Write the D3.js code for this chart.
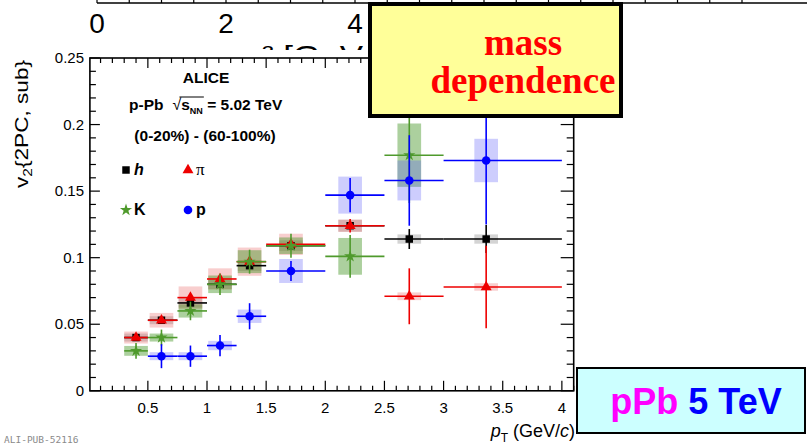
<!DOCTYPE html>
<html>
<head>
<meta charset="utf-8">
<script src="https://cdn.jsdelivr.net/npm/d3@7"></script>
<style>
  html, body { margin: 0; padding: 0; background: #fff; }
  svg { display: block; }
</style>
</head>
<body>
<svg id="chart" width="807" height="446"></svg>
<script>
// pT bins (GeV/c) and mean pT inside each bin
const binLo  = [0.3, 0.5, 0.75, 1.0, 1.25, 1.5, 2.0, 2.5, 3.0];
const binHi  = [0.5, 0.75, 1.0, 1.25, 1.5, 2.0, 2.5, 3.0, 4.0];
const ptMean = [0.40, 0.615, 0.86, 1.11, 1.36, 1.71, 2.21, 2.71, 3.36];

// unidentified hadrons h
const hBins = [0, 1, 2, 3, 4, 5, 6, 7, 8];
const hV    = [0.040, 0.053, 0.066, 0.080, 0.094, 0.109, 0.124, 0.114, 0.114];
const hStat = [0.001, 0.001, 0.0015, 0.0015, 0.002, 0.002, 0.003, 0.0075, 0.0105];
const hSys  = [0.003, 0.003, 0.0035, 0.0035, 0.004, 0.004, 0.0045, 0.0035, 0.0035];

// pions
const piBins = [0, 1, 2, 3, 4, 5, 6, 7, 8];
const piV    = [0.040, 0.053, 0.070, 0.084, 0.097, 0.110, 0.124, 0.071, 0.078];
const piStat = [0.0015, 0.0015, 0.002, 0.002, 0.003, 0.003, 0.005, 0.021, 0.031];
const piSys  = [0.0045, 0.0055, 0.0084, 0.008, 0.0106, 0.008, 0.0046, 0.0029, 0.0028];

// kaons
const kBins = [0, 1, 2, 3, 4, 5, 6, 7];
const kV    = [0.030, 0.040, 0.060, 0.080, 0.097, 0.109, 0.101, 0.177];
const kStat = [0.006, 0.006, 0.007, 0.008, 0.009, 0.009, 0.016, 0.036];
const kSys  = [0.0037, 0.003, 0.005, 0.0066, 0.0086, 0.0062, 0.0138, 0.0238];

// protons
const pBins = [1, 2, 3, 4, 5, 6, 7, 8];
const pV    = [0.026, 0.026, 0.034, 0.056, 0.090, 0.147, 0.158, 0.173];
const pStat = [0.009, 0.008, 0.008, 0.0098, 0.0075, 0.0129, 0.034, 0.048];
const pSys  = [0.003, 0.003, 0.0035, 0.005, 0.009, 0.0139, 0.015, 0.0163];

// axis tick labels
const xTickVals = [0.5, 1, 1.5, 2, 2.5, 3, 3.5, 4];
const yTickVals = [0, 0.05, 0.1, 0.15, 0.2, 0.25];
const upperTickLabels = [0, 2, 4];

const svg = d3.select("#chart");
const sans = "'Liberation Sans', Arial, Helvetica, sans-serif";
const serif = "'Liberation Serif', 'Times New Roman', serif";

// ---- lower edge of the panel above (axis with ticks) ----
const xUp = d3.scaleLinear().domain([0, 4]).range([97, 355]);
const upper = svg.append("g");
upper.append("line").attr("x1", xUp(0)).attr("x2", 807).attr("y1", 3).attr("y2", 3)
  .attr("stroke", "#000").attr("stroke-width", 1.5);
upper.selectAll("line.ut").data(d3.range(0, 10.01, 0.5)).join("line")
  .attr("class", "ut")
  .attr("x1", d => xUp(d)).attr("x2", d => xUp(d))
  .attr("y1", 0).attr("y2", 3).attr("stroke", "#000").attr("stroke-width", 1.2);
upper.selectAll("text.ul").data(upperTickLabels).join("text")
  .attr("class", "ul")
  .attr("x", d => xUp(d)).attr("y", 33)
  .attr("text-anchor", "middle")
  .attr("font-family", sans).attr("font-size", 28)
  .text(d => d);
upper.append("text")
  .attr("x", 262).attr("y", 65)
  .attr("font-family", sans).attr("font-size", 28)
  .attr("textLength", 101).attr("lengthAdjust", "spacingAndGlyphs")
  .text("² [GeV");

// ---- main panel background ----
svg.append("rect").attr("x", 0).attr("y", 50).attr("width", 807).attr("height", 396).attr("fill", "#fff");

// ---- scales ----
const x = d3.scaleLinear().domain([0.01, 4.1]).range([89.9, 573.7]);
const y = d3.scaleLinear().domain([0, 0.25]).range([390.8, 58]);
const [x0, x1] = x.range();
const [y0, y1] = y.range();

// ---- axes, ticks on all four sides pointing inward ----
const axes = svg.append("g");
const ax = axes.append("g");
const xMinor = d3.range(0.1, 4.101, 0.1).map(v => +v.toFixed(2));
const yMinor = d3.range(0, 0.2501, 0.01).map(v => +v.toFixed(3));
const isMajX = v => Math.abs(v * 2 - Math.round(v * 2)) < 1e-6;
const isMajY = v => Math.abs(v * 20 - Math.round(v * 20)) < 1e-6;

ax.selectAll("line.xb").data(xMinor).join("line")
  .attr("x1", d => x(d)).attr("x2", d => x(d))
  .attr("y1", y0).attr("y2", d => y0 - (isMajX(d) ? 10 : 5))
  .attr("stroke", "#000").attr("stroke-width", 1.2);
ax.selectAll("line.xt").data(xMinor).join("line")
  .attr("x1", d => x(d)).attr("x2", d => x(d))
  .attr("y1", y1).attr("y2", d => y1 + (isMajX(d) ? 10 : 5))
  .attr("stroke", "#000").attr("stroke-width", 1.2);
ax.selectAll("line.yl").data(yMinor).join("line")
  .attr("y1", d => y(d)).attr("y2", d => y(d))
  .attr("x1", x0).attr("x2", d => x0 + (isMajY(d) ? 10 : 6))
  .attr("stroke", "#000").attr("stroke-width", 1.2);
ax.selectAll("line.yr").data(yMinor).join("line")
  .attr("y1", d => y(d)).attr("y2", d => y(d))
  .attr("x1", x1).attr("x2", d => x1 - (isMajY(d) ? 13 : 7))
  .attr("stroke", "#000").attr("stroke-width", 1.2);
axes.append("rect").attr("x", x0).attr("y", y1).attr("width", x1 - x0).attr("height", y0 - y1)
  .attr("fill", "none").attr("stroke", "#000").attr("stroke-width", 1.6);

axes.selectAll("text.xl").data(xTickVals).join("text")
  .attr("x", d => x(d)).attr("y", 413)
  .attr("text-anchor", "middle").attr("font-family", sans).attr("font-size", 15)
  .text(d => d3.format("~g")(d));
axes.selectAll("text.yl").data(yTickVals).join("text")
  .attr("x", 84).attr("y", d => y(d) + 5)
  .attr("text-anchor", "end").attr("font-family", sans).attr("font-size", 15)
  .text(d => d3.format("~g")(d));

// axis titles
const yt = svg.append("text")
  .attr("transform", "translate(28,124) rotate(-90)")
  .attr("text-anchor", "middle").attr("font-family", sans).attr("font-size", 19)
  .attr("textLength", 128).attr("lengthAdjust", "spacingAndGlyphs");
yt.append("tspan").text("v");
yt.append("tspan").attr("font-size", 13).attr("dy", 4).text("2");
yt.append("tspan").attr("dy", -4).text("{2PC, sub}");

const xt = svg.append("text")
  .attr("x", 575).attr("y", 437)
  .attr("text-anchor", "end").attr("font-family", sans).attr("font-size", 18);
xt.append("tspan").attr("font-style", "italic").text("p");
xt.append("tspan").attr("font-size", 12).attr("dy", 5).text("T");
xt.append("tspan").attr("dy", -5).text(" (GeV/");
xt.append("tspan").attr("font-style", "italic").text("c");
xt.append("tspan").text(")");

svg.append("text").attr("x", 4).attr("y", 443)
  .attr("font-family", "'DejaVu Sans Mono', monospace").attr("font-size", 9.5)
  .attr("fill", "#8a8a8a").text("ALI-PUB-52116");

// ---- data series ----
const series = [
  { name: "h",  bins: hBins,  v: hV,  stat: hStat,  sys: hSys,  color: "#000000", box: "rgba(0,0,0,0.17)",      sym: d3.symbolSquare,   size: 56 },
  { name: "pi", bins: piBins, v: piV, stat: piStat, sys: piSys, color: "#ee0000", box: "rgba(230,80,80,0.28)",   sym: d3.symbolTriangle, size: 52 },
  { name: "K",  bins: kBins,  v: kV,  stat: kStat,  sys: kSys,  color: "#4f9a2c", box: "rgba(70,150,40,0.45)",   sym: d3.symbolStar,     size: 46 },
  { name: "p",  bins: pBins,  v: pV,  stat: pStat,  sys: pSys,  color: "#0000ff", box: "rgba(90,90,250,0.30)",   sym: d3.symbolCircle,   size: 58 }
];
const rows = s => s.bins.map((b, i) => ({ lo: binLo[b], hi: binHi[b], pt: ptMean[b], v: s.v[i], st: s.stat[i], sy: s.sys[i] }));
const boxHalf = 0.1;

const plot = svg.append("g");
// systematic boxes first
series.forEach(s => {
  plot.append("g").selectAll("rect").data(rows(s)).join("rect")
    .attr("x", d => x(d.pt - boxHalf)).attr("width", d => x(d.pt + boxHalf) - x(d.pt - boxHalf))
    .attr("y", d => y(d.v + d.sy)).attr("height", d => y(d.v - d.sy) - y(d.v + d.sy))
    .attr("fill", s.box);
});
// statistical bars and markers
series.forEach(s => {
  const g = plot.append("g");
  const r = rows(s);
  g.selectAll("line.h").data(r).join("line")
    .attr("x1", d => x(d.lo)).attr("x2", d => x(d.hi))
    .attr("y1", d => y(d.v)).attr("y2", d => y(d.v))
    .attr("stroke", s.color).attr("stroke-width", 1.6);
  g.selectAll("line.v").data(r).join("line")
    .attr("x1", d => x(d.pt)).attr("x2", d => x(d.pt))
    .attr("y1", d => y(d.v - d.st)).attr("y2", d => y(d.v + d.st))
    .attr("stroke", s.color).attr("stroke-width", 1.6);
  g.selectAll("path").data(r).join("path")
    .attr("transform", d => `translate(${x(d.pt)},${y(d.v)})`)
    .attr("d", d3.symbol().type(s.sym).size(s.size))
    .attr("fill", s.color);
});

// ---- legend and header text ----
const hdr = svg.append("g").attr("font-family", sans).attr("font-weight", "bold").attr("fill", "#000");
hdr.append("text").attr("x", 206).attr("y", 83).attr("text-anchor", "middle").attr("font-size", 15.5).text("ALICE");

// p-Pb √sNN = 5.02 TeV, laid out piece by piece
(function () {
  const yb = 110;
  let cx = 129;
  const put = (txt, size, dy, extra) => {
    const t = hdr.append("text").attr("x", cx).attr("y", yb + (dy || 0)).attr("font-size", size).text(txt);
    if (extra) extra(t);
    cx += t.node().getComputedTextLength();
  };
  put("p-Pb", 15.5);
  cx += 9;
  const rs = cx;
  put("\u221A", 16, 0, t => t.attr("font-weight", "normal"));
  put("s", 15.5);
  put("NN", 9, 4);
  const s1 = cx;
  hdr.append("line").attr("x1", rs + 7).attr("x2", s1 + 1).attr("y1", yb - 13).attr("y2", yb - 13)
    .attr("stroke", "#000").attr("stroke-width", 1);
  put("\u00A0= 5.02 TeV", 15.5);
})();
hdr.append("text").attr("x", 205).attr("y", 141).attr("text-anchor", "middle").attr("font-size", 15.5)
  .text("(0-20%) - (60-100%)");

const legendItems = [
  { s: series[0], lx: 126, ly: 170, label: "h", italic: true, isSerif: false },
  { s: series[1], lx: 188, ly: 170, label: "\u03C0", italic: false, isSerif: true },
  { s: series[2], lx: 126, ly: 210, label: "K", italic: false, isSerif: false },
  { s: series[3], lx: 188, ly: 210, label: "p", italic: false, isSerif: false }
];
legendItems.forEach(it => {
  svg.append("path").attr("transform", `translate(${it.lx},${it.ly})`)
    .attr("d", d3.symbol().type(it.s.sym).size(it.s.size)).attr("fill", it.s.color);
  svg.append("text").attr("x", it.lx + 8).attr("y", it.ly + 5)
    .attr("font-family", it.isSerif ? serif : sans)
    .attr("font-weight", it.isSerif ? "normal" : "bold")
    .attr("font-style", it.italic ? "italic" : "normal")
    .attr("font-size", it.isSerif ? 17 : 16)
    .text(it.label);
});

// ---- annotation boxes ----
svg.append("rect").attr("x", 370).attr("y", 4).attr("width", 251).attr("height", 112)
  .attr("fill", "#ffff99").attr("stroke", "#000").attr("stroke-width", 4);
svg.append("text").attr("x", 523).attr("y", 55).attr("text-anchor", "middle")
  .attr("font-family", serif).attr("font-weight", "bold")
  .attr("font-size", 37).attr("fill", "#ff0000").text("mass");
svg.append("text").attr("x", 523).attr("y", 93).attr("text-anchor", "middle")
  .attr("font-family", serif).attr("font-weight", "bold")
  .attr("font-size", 37).attr("fill", "#ff0000").text("dependence");

svg.append("rect").attr("x", 577).attr("y", 368).attr("width", 228).attr("height", 65)
  .attr("fill", "#ccffff").attr("stroke", "#000").attr("stroke-width", 2);
const tag = svg.append("text").attr("x", 696).attr("y", 414).attr("text-anchor", "middle")
  .attr("font-family", sans).attr("font-weight", "bold").attr("font-size", 36);
tag.append("tspan").attr("fill", "#ff00ff").text("pPb ");
tag.append("tspan").attr("fill", "#0000ff").text("5 TeV");
</script>
</body>
</html>
